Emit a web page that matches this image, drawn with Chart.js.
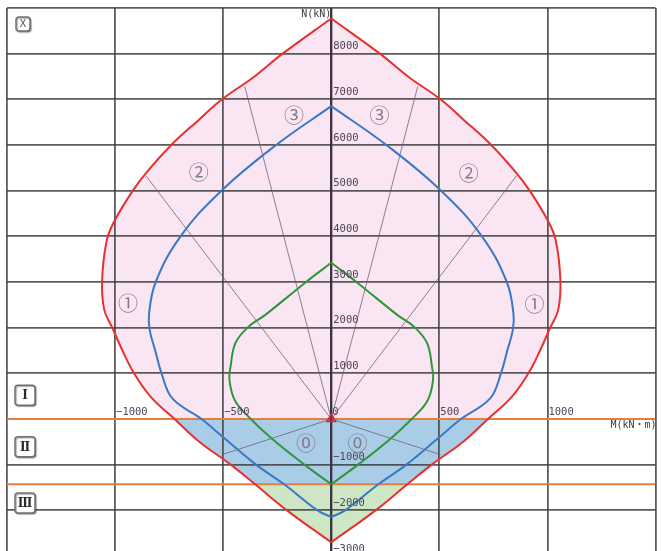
<!DOCTYPE html>
<html>
<head>
<meta charset="utf-8">
<title>M-N 相関図</title>
<script src="https://cdn.jsdelivr.net/npm/chart.js@4/dist/chart.umd.min.js"></script>
<style>
  html, body { margin: 0; padding: 0; background: #fff; overflow: hidden; width: 662px; height: 551px; }
  #wrap { position: relative; width: 662px; height: 565px; }
</style>
</head>
<body>
<div id="wrap"><canvas id="mn"></canvas></div>
<script>
// Interaction curves [M (kN·m), N (kN)].
// Left halves run from the top vertex down, right halves from the bottom vertex up.
const redLeft = [[0,8770],[-225,8000],[-358,7490],[-505,7000],[-613,6550],[-740,6000],[-856,5390],[-918,5000],[-1000,4360],[-1038,3920],[-1060,3040],[-1050,2390],[-1013,2000],[-967,1510],[-912,1000],[-834,480],[-725,0],[-615,-480],[-465,-1000],[-352,-1430],[-205,-2000],[0,-2700]];
const redRight = [[0,-2700],[205,-2000],[352,-1430],[465,-1000],[615,-480],[725,0],[834,480],[912,1000],[967,1510],[1013,2000],[1050,2390],[1060,3040],[1038,3920],[1000,4360],[918,5000],[856,5390],[740,6000],[613,6550],[505,7000],[358,7490],[225,8000],[0,8770]];

const blueLeft = [[0,6850],[-255,6000],[-508,5000],[-697,4000],[-812,3000],[-843,2300],[-840,1950],[-815,1510],[-785,1000],[-735,450],[-600,0],[-490,-440],[-348,-1000],[-218,-1430],[-64,-2000],[0,-2145]];
const blueRight = [[0,-2145],[64,-2000],[218,-1430],[348,-1000],[490,-440],[600,0],[735,450],[785,1000],[815,1510],[840,1950],[843,2300],[812,3000],[697,4000],[508,5000],[255,6000],[0,6850]];

const greenLeft = [[0,3420],[-122,2980],[-305,2280],[-384,2015],[-443,1665],[-466,1140],[-471,860],[-445,400],[-372,0],[-277,-420],[-124,-1000],[0,-1430]];
const greenRight = [[0,-1430],[124,-1000],[277,-420],[372,0],[445,400],[471,860],[466,1140],[443,1665],[384,2015],[305,2280],[122,2980],[0,3420]];

// Zone boundaries in N (kN): I above the first, II between, III below the second
const zoneBounds = [0, -1430];

// Rays from the origin separating the sub-zones
const zoneRays = [[-400,7280],[-858,5330],[-505,-780],[400,7280],[858,5330],[505,-780]];

// Sub-zone marks and where they sit
const zoneMarks = ['①','②','③','⓪','①','②','③','⓪'];
const zoneMarkM = [-940,-613,-172,-117,940,636,223,122];
const zoneMarkN = [2550,5430,6680,-503,2540,5410,6680,-503];

// Zone boxes I / II / III, anchored at these N values
const zoneNames = ['Ⅰ','Ⅱ','Ⅲ'];
const zoneNameN = [520,-610,-1840];

// Axis ranges and labelled ticks
const M_RANGE = [-1500, 1500], M_STEP = 500;
const N_RANGE = [-3000, 9000], N_STEP = 1000;
const mTickLabels = [-1000,-500,0,500,1000];
const nTickLabels = [8000,7000,6000,5000,4000,3000,2000,1000,-1000,-2000,-3000];

const TENSION = 0.4;
const pts = arr => arr.map(([m, n]) => ({ x: m, y: n }));
const fmt = v => (v < 0 ? '\u2212' + Math.abs(v) : String(v));

// Join two runs of points; repeating the junction points keeps the corner sharp
// and the connecting segment straight when the path is smoothed.
const joinSharp = (a, b) => a.concat([a[a.length - 1], b[0]], b);

// Filled regions cut out of the outer (red) curve at the zone boundaries
const [b0, b1] = zoneBounds;
const pinkShape  = joinSharp(redLeft.filter(p => p[1] >= b0), redRight.filter(p => p[1] >= b0));
const blueShape  = joinSharp(redLeft.filter(p => p[1] <= b0 && p[1] >= b1), redRight.filter(p => p[1] <= b0 && p[1] >= b1));
const greenShape = joinSharp(redLeft.filter(p => p[1] <= b1), redRight.filter(p => p[1] <= b1));

function area(shape, color) {
  return { data: pts(shape), showLine: true, fill: 'shape', backgroundColor: color,
           borderColor: 'rgba(0,0,0,0)', borderWidth: 0, pointRadius: 0, tension: TENSION, order: 20 };
}
function curve(half, color, order) {
  return { data: pts(half), showLine: true, fill: false, borderColor: color, borderWidth: 2,
           pointRadius: 0, tension: TENSION, order };
}
function hline(n, color, width, order) {
  return { data: pts([[M_RANGE[0], n], [M_RANGE[1], n]]), showLine: true, fill: false,
           borderColor: color, borderWidth: width, pointRadius: 0, order };
}

const datasets = [
  area(pinkShape, '#f9e6f2'),
  area(blueShape, '#aacde7'),
  area(greenShape, '#cde6c4'),
  ...zoneRays.map(r => ({ data: pts([[0, 0], r]), showLine: true, fill: false,
                          borderColor: 'rgba(105,90,108,0.75)', borderWidth: 1, pointRadius: 0, order: 12 })),
  hline(zoneBounds[0], '#e3803f', 2, 8),
  hline(zoneBounds[1], '#e3803f', 2, 8),
  { data: pts([[0, N_RANGE[0]], [0, N_RANGE[1]]]), showLine: true, fill: false,
    borderColor: '#3c3046', borderWidth: 2.2, pointRadius: 0, order: 7 },
  curve(greenLeft, '#30953c', 5), curve(greenRight, '#30953c', 5),
  curve(blueLeft, '#3a78c6', 4), curve(blueRight, '#3a78c6', 4),
  curve(redLeft, '#e8302f', 3), curve(redRight, '#e8302f', 3),
  { data: [{ x: 0, y: 0 }], showLine: false, pointStyle: 'triangle', pointRadius: 5,
    pointBackgroundColor: 'rgba(150,40,80,0.55)', pointBorderColor: '#d52a3e', pointBorderWidth: 1.5, order: 1 }
];

function roundBox(ctx, cx, cy, w, h) {
  ctx.save();
  ctx.shadowColor = 'rgba(0,0,0,0.35)';
  ctx.shadowOffsetX = 1; ctx.shadowOffsetY = 1; ctx.shadowBlur = 1;
  ctx.fillStyle = '#fff';
  ctx.strokeStyle = '#707070';
  ctx.lineWidth = 1.5;
  ctx.beginPath();
  ctx.roundRect(cx - w / 2, cy - h / 2, w, h, 3);
  ctx.fill();
  ctx.stroke();
  ctx.restore();
}

const annotate = {
  id: 'annotate',
  afterDraw(chart) {
    const { ctx, chartArea: a } = chart;
    const sx = chart.scales.x, sy = chart.scales.y;
    const x0 = sx.getPixelForValue(0), y0 = sy.getPixelForValue(0);
    ctx.save();

    // tick labels along the centre axes
    ctx.font = '10.5px "DejaVu Sans Mono", monospace';
    ctx.fillStyle = '#4e4456';
    ctx.textBaseline = 'middle';
    ctx.textAlign = 'left';
    nTickLabels.forEach(v => ctx.fillText(fmt(v), x0 + 2, sy.getPixelForValue(v) - 7));
    mTickLabels.forEach(v => ctx.fillText(fmt(v), sx.getPixelForValue(v) + 1, y0 - 7));

    // axis titles
    ctx.fillStyle = '#3a3a3a';
    ctx.font = '10px "DejaVu Sans Mono", "Noto Sans CJK JP", monospace';
    ctx.textAlign = 'right';
    ctx.fillText('N(kN)', x0, a.top + 6);
    ctx.fillText('M(kN・m)', a.right + 1, y0 + 6);

    // sub-zone marks
    ctx.font = '20px "Noto Sans CJK JP", "DejaVu Sans", sans-serif';
    ctx.fillStyle = '#857a8a';
    ctx.textAlign = 'center';
    zoneMarks.forEach((t, i) => ctx.fillText(t, sx.getPixelForValue(zoneMarkM[i]), sy.getPixelForValue(zoneMarkN[i]) + 1));

    // zone boxes
    const bx = a.left + 18;
    zoneNames.forEach((t, i) => {
      const cy = sy.getPixelForValue(zoneNameN[i]);
      roundBox(ctx, bx, cy, 20, 20);
      ctx.fillStyle = '#2a2a2a';
      ctx.font = 'bold 12px "DejaVu Serif", "Noto Sans CJK JP", serif';
      ctx.textAlign = 'center';
      ctx.textBaseline = 'middle';
      ctx.fillText(t, bx, cy + 1);
    });

    // figure mark, top left
    roundBox(ctx, a.left + 16, a.top + 16, 14, 14);
    ctx.fillStyle = '#555';
    ctx.font = '10px "DejaVu Sans", sans-serif';
    ctx.fillText('X', a.left + 16, a.top + 16.5);

    ctx.restore();
  }
};

const gridOpts = { color: 'rgba(62,62,62,0.85)', lineWidth: 1.8, drawTicks: false };

new Chart(document.getElementById('mn'), {
  type: 'scatter',
  data: { datasets },
  options: {
    responsive: true,
    maintainAspectRatio: false,
    animation: false,
    events: [],
    layout: { padding: { left: 7, right: 2, top: 8, bottom: 9 } },
    plugins: {
      legend: { display: false },
      tooltip: { enabled: false },
      filler: { drawTime: 'beforeDraw' }
    },
    scales: {
      x: { type: 'linear', min: M_RANGE[0], max: M_RANGE[1],
           ticks: { stepSize: M_STEP, display: false }, grid: gridOpts, border: { display: false } },
      y: { type: 'linear', min: N_RANGE[0], max: N_RANGE[1],
           ticks: { stepSize: N_STEP, display: false }, grid: gridOpts, border: { display: false } }
    }
  },
  plugins: [annotate]
});
</script>
</body>
</html>
